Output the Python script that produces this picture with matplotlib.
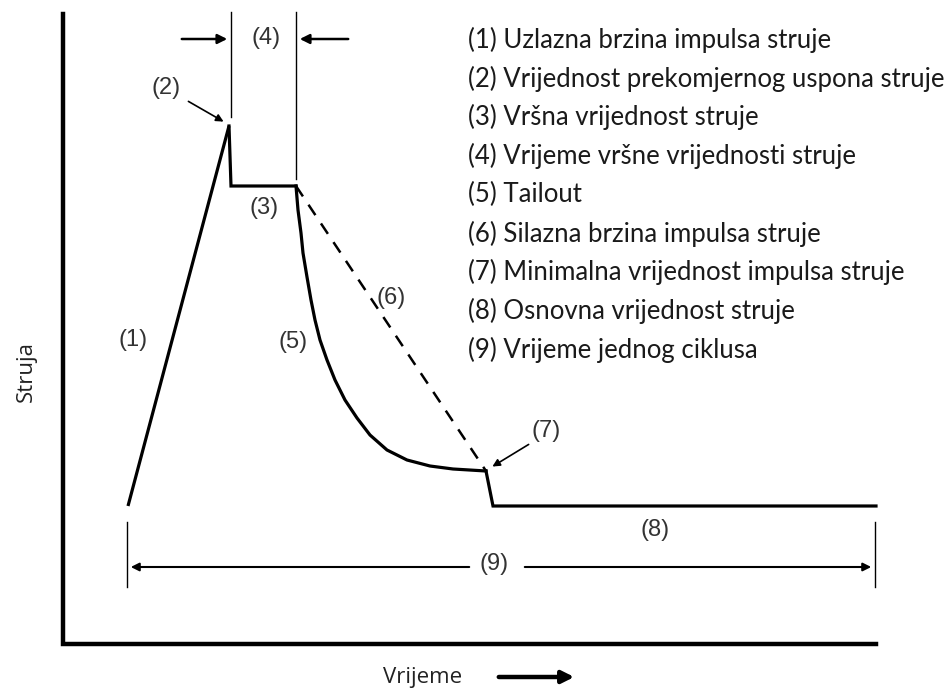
import matplotlib
matplotlib.use("Agg")
import matplotlib.pyplot as plt

# pulse waveform (x = time, y = height from the bottom, px units)
rise_t = [128, 229]
rise_i = [184, 564]
peak_t = [229, 231, 296]
peak_i = [564, 504, 504]
tail_t = [296, 298, 301, 303, 307, 311, 315, 320, 327, 335, 345, 357, 370, 387, 407, 430, 453, 486]
tail_i = [504, 480, 457, 437, 413, 390, 370, 350, 330, 310, 290, 272, 255, 240, 230, 224, 221, 219]
slope_t = [296, 486]
slope_i = [504, 219]
base_t = [486, 493, 876]
base_i = [219, 184, 184]

labels = ["(1)", "(2)", "(3)", "(4)", "(5)", "(6)", "(7)", "(8)", "(9)"]
label_x = [133, 166, 264, 266, 293, 391, 546, 655, 494]
label_y = [350, 602, 482, 652, 348, 392, 259, 160, 126]

legend = [
    "(1) Uzlazna brzina impulsa struje",
    "(2) Vrijednost prekomjernog uspona struje",
    "(3) Vršna vrijednost struje",
    "(4) Vrijeme vršne vrijednosti struje",
    "(5) Tailout",
    "(6) Silazna brzina impulsa struje",
    "(7) Minimalna vrijednost impulsa struje",
    "(8) Osnovna vrijednost struje",
    "(9) Vrijeme jednog ciklusa",
]

fig = plt.figure(figsize=(9.47, 6.90), dpi=100)
ax = fig.add_axes([0, 0, 1, 1])
ax.set_xlim(0, 947)
ax.set_ylim(0, 690)
ax.axis("off")

lw = 2.3
ax.plot(rise_t, rise_i, color="black", lw=lw, solid_capstyle="butt")
ax.plot(peak_t, peak_i, color="black", lw=lw, solid_joinstyle="miter")
ax.plot(tail_t, tail_i, color="black", lw=lw, solid_joinstyle="round")
ax.plot(slope_t, slope_i, color="black", lw=1.8, ls=(0, (5, 4)))
ax.plot(base_t, base_i, color="black", lw=lw, solid_joinstyle="miter")

# axes of the sketch
ax.plot([63, 63, 876], [676, 46, 46], color="black", lw=3.2, solid_joinstyle="miter")

# dimension lines for (4)
ax.plot([231, 231], [678, 573], color="black", lw=1.0)
ax.plot([296, 296], [678, 511], color="black", lw=1.0)
arr = dict(arrowstyle="-|>", color="black", lw=1.8, mutation_scale=14)
ax.annotate("", xy=(230, 651), xytext=(179, 651), arrowprops=arr)
ax.annotate("", xy=(297, 651), xytext=(351, 651), arrowprops=arr)

# dimension line for (9)
ax.plot([127, 127], [168, 103], color="black", lw=1.0)
ax.plot([875, 875], [168, 103], color="black", lw=1.0)
arr9 = dict(arrowstyle="-|>", color="black", lw=1.5, mutation_scale=12)
ax.annotate("", xy=(128, 123), xytext=(472, 123), arrowprops=arr9)
ax.annotate("", xy=(874, 123), xytext=(522, 123), arrowprops=arr9)

# pointer arrows (2) and (7)
arr_s = dict(arrowstyle="-|>", color="black", lw=1.2, mutation_scale=11)
ax.annotate("", xy=(226, 567), xytext=(186, 590), arrowprops=arr_s)
ax.annotate("", xy=(490, 222), xytext=(531, 247), arrowprops=arr_s)

for t, x, y in zip(labels, label_x, label_y):
    ax.text(x, y, t, fontsize=17, family="Liberation Sans", color="#333333",
            ha="center", va="center")

for k, line in enumerate(legend):
    ax.text(468, 650 - k * 38.7, line, fontsize=18.5, family="Lato",
            color="#1a1a1a", ha="left", va="center")

ax.text(26, 318, "Struja", rotation=90, fontsize=16, family="Open Sans",
        color="#222222", ha="center", va="center")
ax.text(423, 12, "Vrijeme", fontsize=16, family="Open Sans",
        color="#222222", ha="center", va="center")
ax.annotate("", xy=(577, 13), xytext=(496, 13),
            arrowprops=dict(arrowstyle="-|>", color="black", lw=3.2, mutation_scale=18))

fig.savefig("out.png", dpi=100)
